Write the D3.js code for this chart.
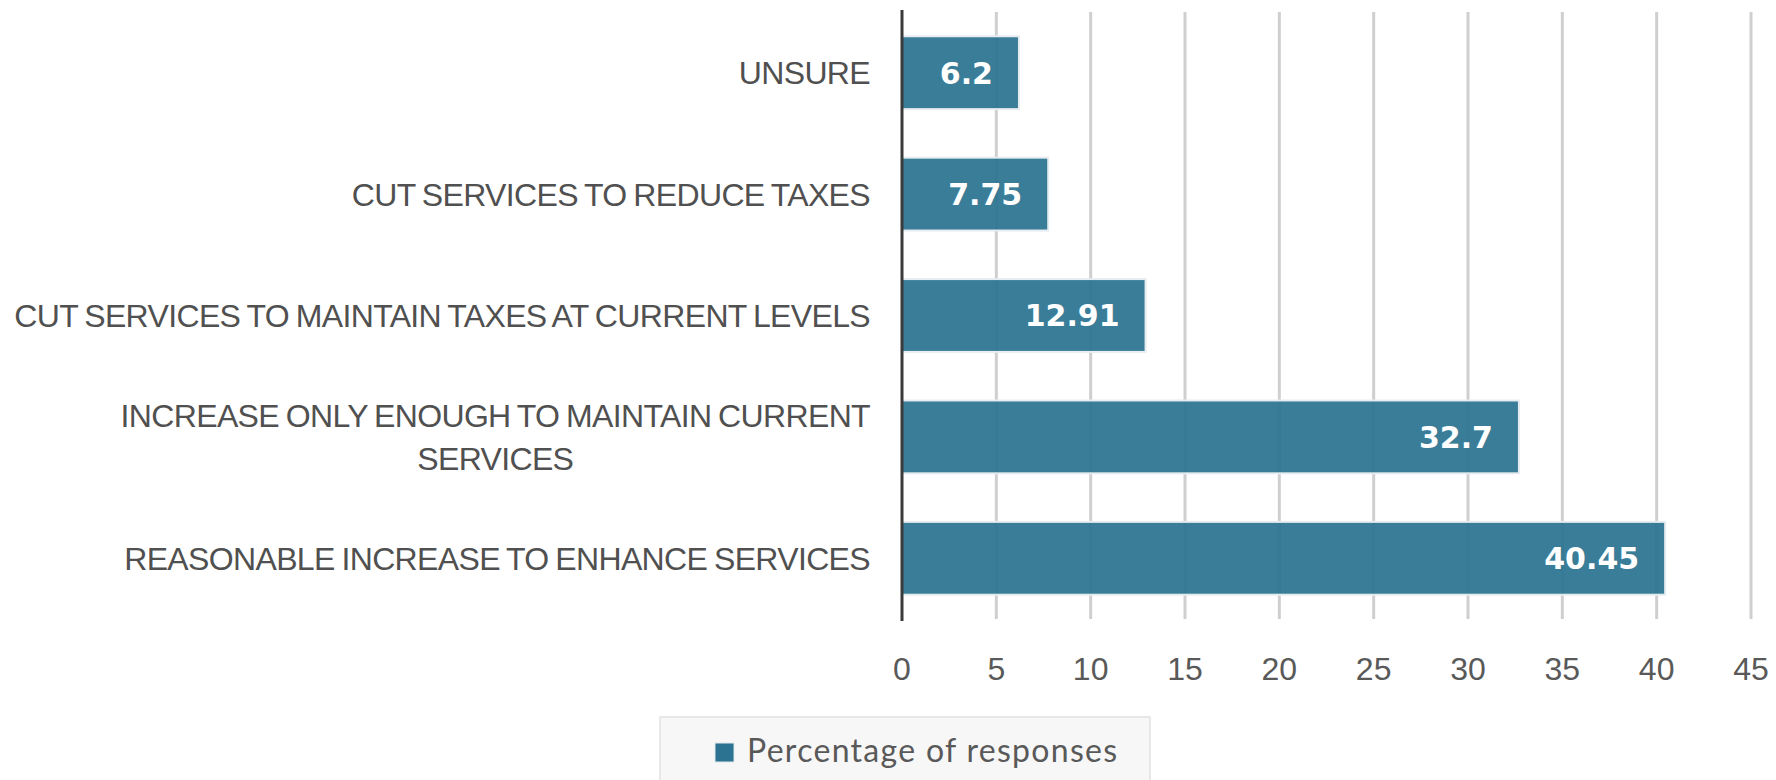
<!DOCTYPE html>
<html>
<head>
<meta charset="utf-8">
<script src="https://cdn.jsdelivr.net/npm/d3@7"></script>
<style>
  body { margin: 0; background: #fff; }
  svg { display: block; }
</style>
</head>
<body>
<svg id="chart" width="1776" height="780"></svg>
<script>
// survey answers, top to bottom
var categories = [
  "UNSURE",
  "CUT SERVICES TO REDUCE TAXES",
  "CUT SERVICES TO MAINTAIN TAXES AT CURRENT LEVELS",
  "INCREASE ONLY ENOUGH TO MAINTAIN CURRENT|SERVICES",
  "REASONABLE INCREASE TO ENHANCE SERVICES"
];
var values = [6.2, 7.75, 12.91, 32.7, 40.45];
var xTicks = [0, 5, 10, 15, 20, 25, 30, 35, 40, 45];
var seriesName = "Percentage of responses";

var barColor = "#2b7390";

var svg = d3.select("#chart");
var plotLeft = 902, plotRight = 1751, plotTop = 12, plotBottom = 619;

var x = d3.scaleLinear().domain([0, 45]).range([plotLeft, plotRight]);
var y = d3.scaleBand().domain(categories).range([plotTop, plotBottom])
  .paddingInner(0.4).paddingOuter(0.2);

// gridlines
svg.append("g").selectAll("line").data(xTicks.filter(d => d > 0)).enter()
  .append("line")
  .attr("x1", d => x(d)).attr("x2", d => x(d))
  .attr("y1", plotTop).attr("y2", plotBottom)
  .attr("stroke", "#cfcfcf").attr("stroke-width", 3);

// bars
svg.append("g").selectAll("rect").data(values).enter()
  .append("rect")
  .attr("x", x(0))
  .attr("y", (d, i) => y(categories[i]))
  .attr("width", d => x(d) - x(0))
  .attr("height", y.bandwidth())
  .attr("fill", barColor).attr("fill-opacity", 0.93)
  .attr("stroke", "#e6ecef").attr("stroke-width", 2);

// value labels inside bars
svg.append("g").selectAll("text").data(values).enter()
  .append("text")
  .attr("x", d => x(d) - 26)
  .attr("y", (d, i) => y(categories[i]) + y.bandwidth() / 2)
  .attr("dy", "0.36em")
  .attr("text-anchor", "end")
  .attr("fill", "#fff")
  .style("font-family", "DejaVu Sans")
  .style("font-weight", "bold")
  .style("font-size", "30px")
  .text(d => d);

// category labels
var catG = svg.append("g")
  .style("font-family", "Liberation Sans")
  .style("font-size", "32px")
  .style("letter-spacing", "-0.65px")
  .style("word-spacing", "-1.5px")
  .attr("fill", "#505050");

categories.forEach(function(c) {
  var lines = c.split("|");
  var cy = y(c) + y.bandwidth() / 2;
  var t = catG.append("text").attr("text-anchor", "middle");
  lines.forEach(function(l, i) {
    t.append("tspan")
      .attr("y", cy + (i - (lines.length - 1) / 2) * 43)
      .attr("dy", "0.36em")
      .text(l);
  });
  var w = d3.max(t.selectAll("tspan").nodes(), n => n.getComputedTextLength());
  t.selectAll("tspan").attr("x", 870 - w / 2);
});

// x axis labels
svg.append("g").selectAll("text").data(xTicks).enter()
  .append("text")
  .attr("x", d => x(d))
  .attr("y", 668)
  .attr("dy", "0.36em")
  .attr("text-anchor", "middle")
  .attr("fill", "#595959")
  .style("font-family", "Liberation Sans")
  .style("font-size", "32px")
  .text(d => d);

// vertical axis line
svg.append("line")
  .attr("x1", x(0)).attr("x2", x(0))
  .attr("y1", 10).attr("y2", 621)
  .attr("stroke", "#3a3a3a").attr("stroke-width", 3);

// legend
var leg = svg.append("g");
leg.append("rect")
  .attr("x", 660).attr("y", 717).attr("width", 490).attr("height", 80)
  .attr("fill", "#f7f7f7").attr("stroke", "#e2e2e2").attr("stroke-width", 1.5);
leg.append("rect")
  .attr("x", 715).attr("y", 743).attr("width", 19).attr("height", 19)
  .attr("fill", barColor).attr("stroke", "#dfe8ec").attr("stroke-width", 1);
leg.append("text")
  .attr("x", 747).attr("y", 762)
  .attr("fill", "#595959")
  .style("font-family", "Lato")
  .style("font-size", "32px")
  .style("letter-spacing", "1.3px")
  .text(seriesName);
</script>
</body>
</html>
